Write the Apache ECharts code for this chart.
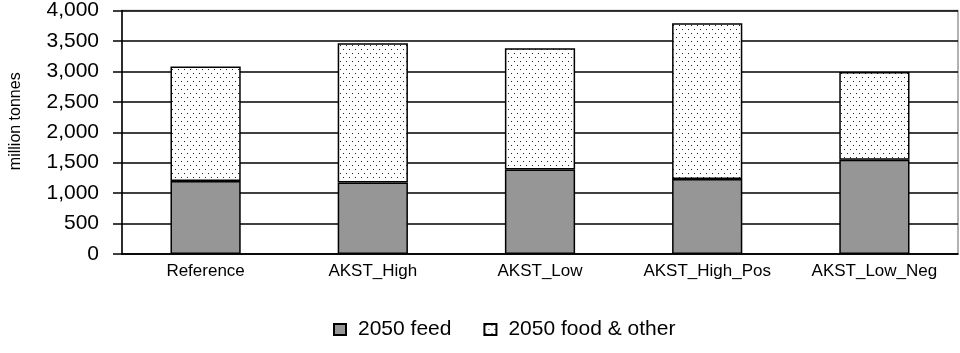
<!DOCTYPE html>
<html>
<head>
<meta charset="utf-8">
<script src="https://cdn.jsdelivr.net/npm/echarts@6/dist/echarts.min.js"></script>
<style>
  html, body { margin: 0; padding: 0; background: #fff; }
  #chart { width: 960px; height: 353px; }
</style>
</head>
<body>
<div id="chart"></div>
<script>
const categories = ["Reference", "AKST_High", "AKST_Low", "AKST_High_Pos", "AKST_Low_Neg"];
const feed = [1200, 1175, 1390, 1230, 1550];
const foodOther = [1880, 2285, 1990, 2560, 1440];
const yTicks = { min: 0, max: 4000, interval: 500 };

// dotted fill like the original print
function dotPattern() {
  const c = document.createElement("canvas");
  c.width = 6;
  c.height = 8;
  const ctx = c.getContext("2d");
  ctx.fillStyle = "#fff";
  ctx.fillRect(0, 0, 6, 8);
  ctx.fillStyle = "#222";
  ctx.fillRect(1, 1, 1, 1);
  ctx.fillRect(4, 5, 1, 1);
  return c;
}

const chart = echarts.init(document.getElementById("chart"));
const font = "Liberation Sans, Arial, sans-serif";

chart.setOption({
  animation: false,
  grid: {
    left: 120,
    right: 2,
    top: 10,
    bottom: 99,
    show: true,
    borderColor: "#999",
    borderWidth: 1.5,
  },
  legend: {
    bottom: 8,
    left: 328,
    icon: "rect",
    itemWidth: 12,
    itemHeight: 11,
    itemGap: 32,
    textStyle: {
      fontFamily: font,
      fontSize: 21,
      color: "#000",
      padding: [0, 0, 0, 7],
    },
    data: ["2050 feed", "2050 food & other"],
  },
  xAxis: {
    type: "category",
    data: categories,
    axisLine: { lineStyle: { color: "#000", width: 1.5 } },
    axisTick: { length: 5, lineStyle: { color: "#000", width: 1.5 } },
    axisLabel: { color: "#000", fontFamily: font, fontSize: 17, margin: 9 },
  },
  yAxis: {
    type: "value",
    min: yTicks.min,
    max: yTicks.max,
    interval: yTicks.interval,
    name: "million tonnes",
    nameLocation: "middle",
    nameGap: 98,
    nameTextStyle: {
      fontFamily: font,
      fontSize: 16,
      color: "#000",
      padding: [0, 0, 0, 22],
    },
    axisLine: { show: true, lineStyle: { color: "#000", width: 1.5 } },
    axisTick: { show: true, length: 9, lineStyle: { color: "#000", width: 1.5 } },
    axisLabel: {
      color: "#000",
      fontFamily: font,
      fontSize: 21,
      margin: 23,
      formatter: (v) => v.toLocaleString("en-US"),
    },
    splitLine: { lineStyle: { color: "#000", width: 1.5 } },
  },
  series: [
    {
      name: "2050 feed",
      type: "bar",
      stack: "total",
      barWidth: "42%",
      data: feed,
      itemStyle: { color: "#969696", borderColor: "#000", borderWidth: 1.5 },
    },
    {
      name: "2050 food & other",
      type: "bar",
      stack: "total",
      data: foodOther,
      itemStyle: {
        color: { image: dotPattern(), repeat: "repeat" },
        borderColor: "#000",
        borderWidth: 1.5,
      },
    },
  ],
});
</script>
</body>
</html>
